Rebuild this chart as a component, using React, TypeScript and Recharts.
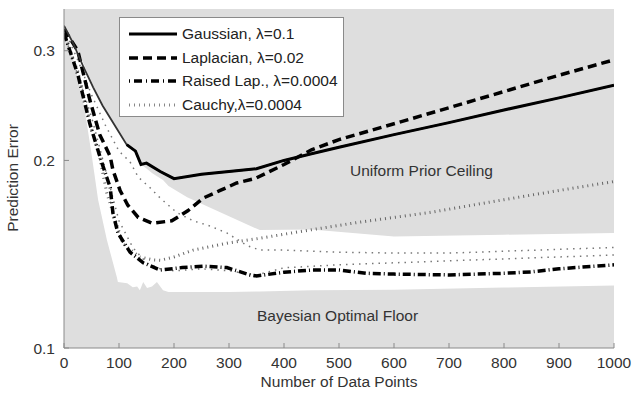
import { ComposedChart, Line, Area, XAxis, YAxis, CartesianGrid } from 'recharts'

// x positions (number of data points) and prediction errors
const gaussX = [0, 17, 35, 53, 70, 84, 100, 114, 130, 140, 150, 175, 200, 250, 300, 350, 400, 450, 500, 600, 700, 800, 900, 1000]
const gaussY = [0.329, 0.308, 0.283, 0.262, 0.245, 0.234, 0.222, 0.212, 0.207, 0.197, 0.198, 0.192, 0.187, 0.19, 0.192, 0.194, 0.2, 0.205, 0.21, 0.22, 0.23, 0.241, 0.252, 0.264]

const lapX = [0, 25, 47, 65, 84, 89, 102, 116, 135, 160, 196, 225, 253, 284, 314, 347, 400, 450, 500, 600, 700, 800, 900, 1000]
const lapY = [0.325, 0.3, 0.25, 0.22, 0.203, 0.193, 0.179, 0.1695, 0.162, 0.1586, 0.16, 0.166, 0.174, 0.179, 0.184, 0.187, 0.197, 0.208, 0.216, 0.229, 0.243, 0.258, 0.274, 0.29]

const raisedX = [0, 25, 47, 69, 84, 89, 98, 120, 144, 175, 215, 253, 296, 338, 350, 400, 450, 500, 550, 600, 700, 800, 850, 900, 1000]
const raisedY = [0.32, 0.275, 0.229, 0.198, 0.181, 0.1645, 0.153, 0.1425, 0.137, 0.1334, 0.1346, 0.1353, 0.1346, 0.131, 0.1305, 0.1323, 0.1334, 0.1334, 0.1318, 0.1314, 0.131, 0.1318, 0.1325, 0.134, 0.136]

const cauchyX = [0, 25, 50, 65, 78, 107, 138, 162, 175, 200, 235, 300, 356, 424, 533, 665, 800, 900, 1000]
const cauchyY = [0.32, 0.278, 0.225, 0.202, 0.177, 0.147, 0.14, 0.1385, 0.1383, 0.14, 0.1436, 0.1475, 0.15, 0.1535, 0.159, 0.165, 0.173, 0.179, 0.185]

// the two faint dotted curves without a legend entry
const upperDotX = [0, 25, 50, 75, 100, 120, 135, 156, 175, 205, 235, 265, 296, 333, 356, 400, 500, 600, 700, 800, 900, 1000]
const upperDotY = [0.325, 0.29, 0.255, 0.228, 0.207, 0.199, 0.188, 0.181, 0.174, 0.165, 0.16, 0.157, 0.153, 0.146, 0.1436, 0.1436, 0.1425, 0.142, 0.142, 0.143, 0.144, 0.145]

const lowerDotX = [0, 50, 100, 125, 150, 175, 200, 250, 300, 350, 400, 500, 600, 700, 800, 900, 1000]
const lowerDotY = [0.32, 0.235, 0.16, 0.145, 0.137, 0.134, 0.133, 0.134, 0.133, 0.131, 0.1345, 0.136, 0.137, 0.138, 0.139, 0.14, 0.141]

// white band between the Bayesian optimal floor and the uniform prior ceiling
const bandX = [0, 17, 25, 38, 50, 62, 78, 96, 98, 115, 125, 133, 138, 144, 151, 160, 169, 180, 190, 224, 300, 356, 450, 600, 800, 1000]
const floorY = [0.329, 0.29, 0.272, 0.24, 0.205, 0.173, 0.149, 0.13, 0.1276, 0.127, 0.1252, 0.1255, 0.1238, 0.1276, 0.1248, 0.1255, 0.1276, 0.1238, 0.123, 0.123, 0.123, 0.1232, 0.1238, 0.124, 0.125, 0.126]
const ceilingY = [0.329, 0.308, 0.3, 0.283, 0.265, 0.252, 0.238, 0.225, 0.223, 0.212, 0.209, 0.207, 0.2, 0.196, 0.1937, 0.191, 0.1887, 0.186, 0.182, 0.1745, 0.1627, 0.1546, 0.155, 0.151, 0.152, 0.153]

const xTicks = [0, 100, 200, 300, 400, 500, 600, 700, 800, 900, 1000]
const yTicks = [0.1, 0.2, 0.3]

const legendItems = [
  { name: 'Gaussian, λ=0.1', dash: undefined, width: 3, color: '#000' },
  { name: 'Laplacian, λ=0.02', dash: '9 5', width: 3.5, color: '#000' },
  { name: 'Raised Lap., λ=0.0004', dash: '1 4 8 4', width: 3.5, color: '#000' },
  { name: 'Cauchy,λ=0.0004', dash: '1 4', width: 3, color: '#888' },
]

const zip = (xs: number[], ys: number[]) => xs.map((x, i) => ({ x, y: ys[i] }))

const gaussData = zip(gaussX, gaussY)
const gaussThick = gaussData.filter(d => d.x >= 114)
const lapData = zip(lapX, lapY)
const raisedData = zip(raisedX, raisedY)
const cauchyData = zip(cauchyX, cauchyY)
const upperDotData = zip(upperDotX, upperDotY)
const lowerDotData = zip(lowerDotX, lowerDotY)
const bandData = bandX.map((x, i) => ({ x, band: [floorY[i], ceilingY[i]] }))

const font = "'Liberation Sans', Arial, sans-serif"
const axisGrey = '#8a8a8a'
const fs = 15.5

export default function App() {
  return (
    <div style={{ position: 'absolute', left: 0, top: 0, width: 635, height: 395, background: '#fff', fontFamily: font }}>
      <ComposedChart width={635} height={395} data={bandData} margin={{ top: 9, right: 21, bottom: 17, left: 4 }}>
        <CartesianGrid fill="#dedede" stroke="none" horizontal={false} vertical={false} />
        <XAxis
          type="number"
          dataKey="x"
          domain={[0, 1000]}
          ticks={xTicks}
          allowDataOverflow
          height={30}
          tickSize={-5}
          tickMargin={14}
          stroke={axisGrey}
          tick={{ fill: '#333', fontSize: 15.5, fontFamily: font }}
        />
        <XAxis
          xAxisId="top"
          orientation="top"
          type="number"
          domain={[0, 1000]}
          ticks={xTicks}
          allowDataOverflow
          height={0}
          tickSize={-5}
          tickFormatter={() => ''}
          stroke={axisGrey}
        />
        <YAxis
          scale="log"
          domain={[0.1, 0.35]}
          ticks={yTicks}
          allowDataOverflow
          width={60}
          tickSize={-5}
          tickMargin={14}
          stroke={axisGrey}
          tick={{ fill: '#333', fontSize: 15.5, fontFamily: font }}
        />
        <YAxis
          yAxisId="right"
          orientation="right"
          scale="log"
          domain={[0.1, 0.35]}
          ticks={yTicks}
          allowDataOverflow
          width={0}
          tickSize={-5}
          tickFormatter={() => ''}
          stroke={axisGrey}
        />
        <Area type="linear" dataKey="band" fill="#ffffff" fillOpacity={1} stroke="none" isAnimationActive={false} />
        <Line data={upperDotData} dataKey="y" type="linear" stroke="#777" strokeWidth={1.5} strokeDasharray="1.5 5" dot={false} isAnimationActive={false} />
        <Line data={lowerDotData} dataKey="y" type="linear" stroke="#777" strokeWidth={1.5} strokeDasharray="1.5 5" dot={false} isAnimationActive={false} />
        <Line data={cauchyData} dataKey="y" type="linear" stroke="#666" strokeWidth={3} strokeDasharray="1 4" dot={false} isAnimationActive={false} />
        <Line data={raisedData} dataKey="y" type="linear" stroke="#000" strokeWidth={3.5} strokeDasharray="8 3 1 3" dot={false} isAnimationActive={false} />
        <Line data={lapData} dataKey="y" type="linear" stroke="#000" strokeWidth={3.5} strokeDasharray="9 5" dot={false} isAnimationActive={false} />
        <Line data={gaussData} dataKey="y" type="linear" stroke="#333" strokeWidth={1.8} dot={false} isAnimationActive={false} />
        <Line data={gaussThick} dataKey="y" type="linear" stroke="#000" strokeWidth={3} dot={false} isAnimationActive={false} />
      </ComposedChart>

      <div style={{ position: 'absolute', left: 119, top: 17, width: 225, height: 100, background: '#fff', border: `1px solid ${axisGrey}`, boxSizing: 'border-box' }}>
        {legendItems.map((it, i) => (
          <div key={it.name} style={{ position: 'absolute', left: 0, top: 5 + i * 23.5, height: 22, display: 'flex', alignItems: 'center' }}>
            <svg width={60} height={22} style={{ display: 'block' }}>
              <line x1={9} x2={57} y1={11} y2={11} stroke={it.color} strokeWidth={it.width} strokeDasharray={it.dash} />
            </svg>
            <span style={{ fontSize: fs, color: '#222', marginLeft: 2, whiteSpace: 'nowrap' }}>{it.name}</span>
          </div>
        ))}
      </div>

      <div style={{ position: 'absolute', left: 350, top: 162, fontSize: fs, color: '#333', whiteSpace: 'nowrap' }}>Uniform Prior Ceiling</div>
      <div style={{ position: 'absolute', left: 257, top: 307, fontSize: fs, color: '#333', whiteSpace: 'nowrap' }}>Bayesian Optimal Floor</div>
      <div style={{ position: 'absolute', left: 64, width: 550, top: 373, textAlign: 'center', fontSize: fs, color: '#333' }}>Number of Data Points</div>
      <div style={{ position: 'absolute', left: 13, top: 178, transform: 'translate(-50%, -50%) rotate(-90deg)', fontSize: fs, color: '#333', whiteSpace: 'nowrap' }}>Prediction Error</div>
    </div>
  )
}
